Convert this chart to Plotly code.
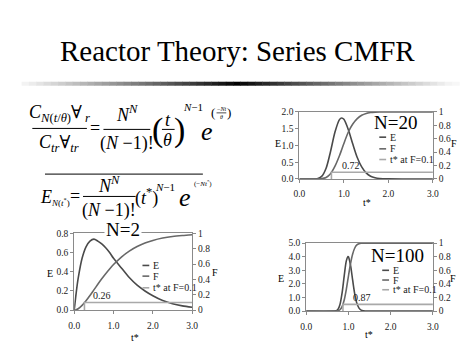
import plotly.graph_objects as go

W, H = 474, 355
SERIF = "'Liberation Serif', 'Times New Roman', Times, 'DejaVu Serif', serif"

# ---- data ----
t20 = [0.0, 0.3, 0.4, 0.5, 0.6, 0.7, 0.8, 0.9, 0.95, 1.0, 1.1, 1.2, 1.3, 1.4, 1.5, 1.6, 1.7, 1.8, 2.0, 2.5, 3.0]
E20 = [0, 0.0002, 0.008, 0.075, 0.32, 0.82, 1.40, 1.77, 1.82, 1.78, 1.47, 1.04, 0.64, 0.36, 0.18, 0.08, 0.035, 0.014, 0.002, 0, 0]
F20 = [0, 0, 0.0005, 0.005, 0.021, 0.077, 0.19, 0.345, 0.437, 0.53, 0.70, 0.82, 0.90, 0.95, 0.977, 0.99, 0.996, 0.998, 1.0, 1.0, 1.0]

t2 = [0.0, 0.05, 0.1, 0.2, 0.3, 0.4, 0.5, 0.6, 0.7, 0.8, 0.9, 1.0, 1.2, 1.4, 1.6, 1.8, 2.0, 2.25, 2.5, 2.75, 3.0]
E2 = [0, 0.18, 0.33, 0.54, 0.66, 0.72, 0.74, 0.72, 0.69, 0.65, 0.60, 0.54, 0.44, 0.34, 0.26, 0.20, 0.15, 0.10, 0.067, 0.045, 0.03]
F2 = [0, 0.005, 0.018, 0.062, 0.122, 0.191, 0.264, 0.337, 0.408, 0.475, 0.537, 0.594, 0.692, 0.769, 0.829, 0.874, 0.908, 0.939, 0.960, 0.973, 0.983]

t100 = [0.0, 0.65, 0.7, 0.75, 0.8, 0.85, 0.9, 0.95, 0.99, 1.0, 1.05, 1.1, 1.15, 1.2, 1.25, 1.3, 1.35, 1.4, 1.5, 2.0, 3.0]
E100 = [0, 0.002, 0.02, 0.12, 0.49, 1.34, 2.59, 3.69, 4.01, 3.99, 3.36, 2.27, 1.25, 0.57, 0.22, 0.07, 0.02, 0.005, 0, 0, 0]
F100 = [0, 0, 0.001, 0.005, 0.02, 0.066, 0.164, 0.321, 0.475, 0.515, 0.70, 0.84, 0.928, 0.973, 0.99, 0.997, 0.999, 1.0, 1.0, 1.0, 1.0]

t_star = {"20": 0.72, "2": 0.26, "100": 0.87}
F_level = 0.1
t_end = 3.0
panel_names = ["N=20", "N=2", "N=100"]
E_max = [2.0, 0.8, 5.0]
E_dtick = [0.5, 0.2, 1.0]
x_ticks = [0, 1, 2, 3]
legend_labels = ["E", "F", "t* at F=0.1"]

C_E, C_F, C_T = "#4a4a4a", "#686868", "#a9a9a9"
AX = "#8a8a8a"

def px(x, y):
    return x / W, 1 - y / H

# panel pixel boxes: left, right, top, bottom
boxes = [(301, 438, 110, 179), (70, 191, 235, 314), (308, 438, 245, 315)]
series = [(t20, E20, F20, "20"), (t2, E2, F2, "2"), (t100, E100, F100, "100")]

fig = go.Figure()
layout = dict(width=W, height=H, margin=dict(l=0, r=0, t=0, b=0),
              paper_bgcolor="white", plot_bgcolor="white", showlegend=False,
              font=dict(family=SERIF))
tickfont = dict(family=SERIF, size=9.5, color="#222")

for i, ((l, r, tp, bt), (tt, ee, ff, key)) in enumerate(zip(boxes, series)):
    xn = "x" if i == 0 else f"x{i+1}"
    ye = f"y{2*i+1}" if i > 0 else "y"
    yf = f"y{2*i+2}"
    xdom = [l / W, r / W]
    ydom = [1 - bt / H, 1 - tp / H]
    xkey = "xaxis" if i == 0 else f"xaxis{i+1}"
    yekey = "yaxis" if i == 0 else f"yaxis{2*i+1}"
    yfkey = f"yaxis{2*i+2}"
    layout[xkey] = dict(domain=xdom, range=[0, 3], tickvals=x_ticks, tickformat=".1f",
                        showline=True, linecolor=AX, mirror=True, ticks="outside", ticklen=3,
                        tickcolor=AX, showgrid=False, zeroline=False, anchor=ye, tickfont=tickfont,
                        ticklabelstandoff=3)
    layout[yekey] = dict(domain=ydom, range=[0, E_max[i]], dtick=E_dtick[i], tickformat=".1f",
                         showline=True, linecolor=AX, ticks="outside", ticklen=3, tickcolor=AX,
                         showgrid=False, zeroline=False, anchor=xn, tickfont=tickfont)
    layout[yfkey] = dict(domain=ydom, range=[0, 1], dtick=0.2, overlaying=ye, side="right",
                         showline=True, linecolor=AX, ticks="outside", ticklen=3, tickcolor=AX,
                         showgrid=False, zeroline=False, anchor=xn, tickfont=tickfont)
    fig.add_trace(go.Scatter(x=tt, y=ee, mode="lines", line=dict(color=C_E, width=1.6, shape="spline", smoothing=0.8),
                             xaxis=xn, yaxis=ye, name="E"))
    fig.add_trace(go.Scatter(x=tt, y=ff, mode="lines", line=dict(color=C_F, width=1.6, shape="spline", smoothing=0.8),
                             xaxis=xn, yaxis=yf, name="F"))
    ts = t_star[key]
    fig.add_trace(go.Scatter(x=[ts, ts, t_end], y=[0, F_level, F_level], mode="lines",
                             line=dict(color=C_T, width=1.6), xaxis=xn, yaxis=yf, name="t* at F=0.1"))
    fig.add_annotation(x=ts + 0.44, y=F_level, xref=xn, yref=yf, text=f"{ts:.2f}", showarrow=False,
                       yanchor="bottom", yshift=-1, font=dict(family=SERIF, size=10, color="#222"))

fig.update_layout(**layout)

ann = []
def txt(x, y, s, size, color="black", xanchor="center", bg=None):
    ax, ay = px(x, y)
    d = dict(x=ax, y=ay, xref="paper", yref="paper", text=s, showarrow=False,
             xanchor=xanchor, yanchor="middle", font=dict(family=SERIF, size=size, color=color))
    if bg:
        d["bgcolor"] = bg
    ann.append(d)

shapes = []
def hline(x0, x1, y, color="black", width=1):
    a0, b0 = px(x0, y)
    a1, _ = px(x1, y)
    shapes.append(dict(type="line", xref="paper", yref="paper", x0=a0, x1=a1, y0=b0, y1=b0,
                       line=dict(color=color, width=width)))

# title
txt(237, 47, "Reactor Theory: Series CMFR", 29)

# gradient rule under title
n = 60
x0, x1, xc = 16, 465, 237
for k in range(n):
    a = x0 + (x1 - x0) * k / n
    b = x0 + (x1 - x0) * (k + 1) / n
    m = (a + b) / 2
    f = min(1.0, abs(m - xc) / (xc - x0))
    g = int(255 * (f ** 0.9) * 0.97)
    hline(a, b + 0.5, 81, color=f"rgb({g},{g},{g})", width=4)

# panel text: big N labels, axis labels, legends
big = [(400, 121), (120, 231), (402, 258)]
elab = [(279, 143), (45, 276), (282, 281)]
flab = [(460, 143), (214, 275), (459, 281)]
tlab = [(370, 203), (132, 342), (372, 339)]
leg = [(383, [136, 148, 159]), (140, [268, 279, 291]), (386, [273, 283, 293])]
for i in range(3):
    txt(big[i][0], big[i][1], panel_names[i], 19, bg="white" if i == 1 else None)
    txt(elab[i][0], elab[i][1], "E", 10)
    txt(flab[i][0], flab[i][1], "F", 10)
    txt(tlab[i][0], tlab[i][1], "t*", 10)
    lx, rows = leg[i]
    for lab, yy, col in zip(legend_labels, rows, [C_E, C_F, C_T]):
        hline(lx, lx + 7, yy, color=col, width=1.6)
        txt(lx + 9, yy, lab, 10, color="#222", xanchor="left")

# ---- equation 1 ----
txt(55, 112, "<i>C</i><sub><i>N</i>(<i>t</i>/<i>θ</i>)</sub>∀<sub> <i>r</i></sub>", 18)
hline(27, 83, 127)
txt(54, 142, "<i>C</i><sub><i>tr</i></sub>∀<sub><i>tr</i></sub>", 18)
txt(91, 127, "=", 18)
txt(124, 112, "<i>N</i><sup><i>N</i></sup>", 18)
hline(100, 148, 128)
txt(124, 143, "(<i>N</i> −1)!", 18)
txt(155, 129, "(", 34)
txt(178, 129, ")", 34)
txt(166, 118, "<i>t</i>", 18)
hline(160, 173, 128)
txt(166, 139, "<i>θ</i>", 18)
txt(192, 105, "<i>N</i>−1", 11)
txt(206, 130, "<i>e</i>", 26)
txt(212, 111, "(", 13)
txt(221, 107, "−<i>Nt</i>", 6)
hline(216, 226, 111, width=0.7)
txt(221, 115, "<i>θ</i>", 6)
txt(229, 111, ")", 13)

# ---- equation 2 ----
hline(40, 202, 174)
txt(41, 198, "<i>E</i>", 18)
txt(56, 203, "<i>N</i>(<i>t</i><sup>*</sup>)", 9)
txt(71, 197, "=", 18)
txt(106, 185, "<i>N</i><sup><i>N</i></sup>", 18)
hline(79, 133, 197)
txt(106, 211, "(<i>N</i> −1)!", 18)
txt(144, 198, "(<i>t</i><sup>*</sup>)", 18)
txt(163, 187, "<i>N</i>−1", 11)
txt(184, 198, "<i>e</i>", 26)
txt(202, 184, "(−<i>Nt</i><sup>*</sup>)", 7)

fig.update_layout(annotations=list(fig.layout.annotations) + ann, shapes=shapes)
fig.write_html("out.html")
